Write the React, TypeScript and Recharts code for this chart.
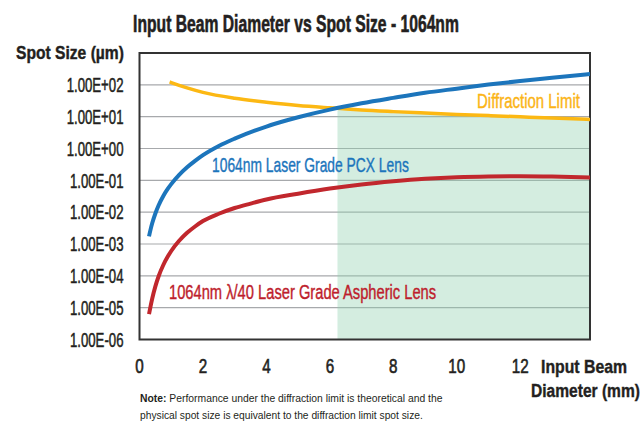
import { Area, ComposedChart, CartesianGrid, Line, ReferenceArea, XAxis, YAxis } from 'recharts';

// input beam diameter (mm) and spot size (µm)
const pcxD = [0.3, 0.35, 0.4, 0.5, 0.6, 0.75, 0.9, 1, 1.25, 1.5, 1.75, 2, 2.5, 3, 4, 5, 6, 7, 8, 9, 10, 11, 12, 13, 14.2];
const pcxSpot = [0.00174, 0.00288, 0.00447, 0.0091, 0.0162, 0.0324, 0.0556, 0.0759, 0.148, 0.257, 0.407, 0.617, 1.2, 2.04, 4.9, 9.55, 16.6, 26.3, 38.9, 56.2, 75.9, 102, 132, 166, 219];

const asphD = [0.3, 0.35, 0.4, 0.5, 0.6, 0.75, 0.9, 1, 1.25, 1.5, 1.75, 2, 2.5, 3, 3.5, 4, 5, 6, 7, 8, 9, 10, 11, 12, 13, 14.2];
const asphSpot = [0.00000631, 0.0000112, 0.0000191, 0.0000468, 0.0000955, 0.000219, 0.000417, 0.000603, 0.00126, 0.00224, 0.00355, 0.00525, 0.00891, 0.0135, 0.0186, 0.0251, 0.038, 0.055, 0.0741, 0.0933, 0.112, 0.126, 0.133, 0.135, 0.132, 0.123];

const diffD = [0.95, 1, 1.5, 2, 3, 4, 5, 6, 6.24, 7, 8, 9, 10, 11, 12, 13, 14.2];
const diffSpot = [123, 118, 80, 58, 38, 28.5, 22.5, 19, 18.3, 16.2, 14.4, 13, 11.8, 10.8, 9.9, 9.1, 8.2];

const shadeFrom = 6.24;

const xTicks = [0, 2, 4, 6, 8, 10, 12];
const yTicks = [1e-6, 1e-5, 1e-4, 1e-3, 1e-2, 1e-1, 1, 10, 100];
const yTickLabels = ['1.00E-06', '1.00E-05', '1.00E-04', '1.00E-03', '1.00E-02', '1.00E-01', '1.00E+00', '1.00E+01', '1.00E+02'];

const pcxData = pcxD.map((d, i) => ({ d, v: pcxSpot[i] }));
const asphData = asphD.map((d, i) => ({ d, v: asphSpot[i] }));
const diffData = diffD.map((d, i) => ({ d, v: diffSpot[i] }));
const shadeData = diffData.filter((p) => p.d >= shadeFrom);

const FONT = '"Liberation Sans", Arial, sans-serif';
const INK = '#231f20';

// the reference uses a condensed face; squeeze Liberation Sans to the measured widths
const ctx = document.createElement('canvas').getContext('2d');
const measure = (text: string, size: number, bold: boolean) => {
  if (!ctx) return text.length * size * 0.55;
  ctx.font = `${bold ? 'bold ' : ''}${size}px "Liberation Sans"`;
  return ctx.measureText(text).width;
};

const YTick = ({ x, y, payload }: any) => {
  const i = yTicks.findIndex((t) => Math.abs(Math.log10(t) - Math.log10(payload.value)) < 1e-6);
  return (
    <g transform={`translate(${x},${y}) scale(0.66,1)`}>
      <text textAnchor="end" dy="0.36em" fontFamily={FONT} fontSize={20} fill={INK} stroke={INK} strokeWidth={0.5}>
        {yTickLabels[i]}
      </text>
    </g>
  );
};

const XTick = ({ x, y, payload }: any) => (
  <g transform={`translate(${x},${y + 33.5}) scale(0.78,1)`}>
    <text textAnchor="middle" fontFamily={FONT} fontSize={19.5} fill={INK} stroke={INK} strokeWidth={0.6}>
      {payload.value}
    </text>
  </g>
);

const T = ({ x, y, w, size, color = INK, bold = false, heavy = 0, anchor = 'start', lead = '', text }: any) => {
  const natural = measure(lead, size, true) + measure(text, size, bold);
  const s = w / natural;
  return (
    <g transform={`translate(${x},${y}) scale(${s},1)`}>
      <text
        textAnchor={anchor}
        fontFamily={FONT}
        fontSize={size}
        fontWeight={bold ? 'bold' : 'normal'}
        fill={color}
        stroke={heavy ? color : 'none'}
        strokeWidth={heavy}
      >
        {lead ? <tspan fontWeight="bold">{lead}</tspan> : null}
        {text}
      </text>
    </g>
  );
};

export default function App() {
  return (
    <div style={{ position: 'absolute', left: 0, top: 0, width: 643, height: 440, background: '#fff' }}>
      <ComposedChart width={643} height={440} margin={{ top: 53, right: 53, left: 0, bottom: 0 }}>
        <CartesianGrid vertical={false} stroke="#a7a9ac" strokeWidth={1.2} />
        <XAxis
          type="number"
          dataKey="d"
          domain={[0, 14.2]}
          ticks={xTicks}
          allowDataOverflow
          height={100.5}
          axisLine={false}
          tickLine={false}
          tickSize={0}
          tickMargin={0}
          tick={<XTick />}
          interval={0}
        />
        <YAxis
          type="number"
          scale="log"
          domain={[1e-6, 1e3]}
          ticks={yTicks}
          allowDataOverflow
          width={139.5}
          axisLine={false}
          tickLine={false}
          tickSize={0}
          tickMargin={16}
          tick={<YTick />}
          interval={0}
        />
        <Area
          data={shadeData}
          dataKey="v"
          type="monotone"
          baseValue={1e-6}
          stroke="none"
          fill="#8fd0ad"
          fillOpacity={0.38}
          isAnimationActive={false}
        />
        <ReferenceArea x1={0} x2={14.2} y1={1e-6} y2={1e3} fill="none" stroke="#333" strokeWidth={2} ifOverflow="visible" />
        <Line data={diffData} dataKey="v" type="monotone" stroke="#fcb813" strokeWidth={3.5} dot={false} isAnimationActive={false} />
        <Line data={pcxData} dataKey="v" type="monotone" stroke="#1c75bc" strokeWidth={4} dot={false} isAnimationActive={false} />
        <Line data={asphData} dataKey="v" type="monotone" stroke="#c1272d" strokeWidth={4} dot={false} isAnimationActive={false} />
      </ComposedChart>
      <svg width={643} height={440} style={{ position: 'absolute', left: 0, top: 0, pointerEvents: 'none' }}>
        <T x={296} y={32} w={326} size={23} bold heavy={0.6} anchor="middle" text="Input Beam Diameter vs Spot Size - 1064nm" />
        <T x={16} y={58.5} w={108} size={18} bold heavy={0.4} text="Spot Size (µm)" />
        <T x={541} y={373} w={86} size={19} bold heavy={0.4} text="Input Beam" />
        <T x={531} y={396.5} w={109} size={19} bold heavy={0.4} text="Diameter (mm)" />
        <T x={477} y={108} w={103} size={20} color="#fbb416" heavy={0.4} text="Diffraction Limit" />
        <T x={212} y={171.5} w={197} size={20} color="#1c75bc" heavy={0.4} text="1064nm Laser Grade PCX Lens" />
        <T x={169} y={299} w={268} size={20} color="#be1e2d" heavy={0.4} text="1064nm λ/40 Laser Grade Aspheric Lens" />
        <T x={140} y={401.5} w={303} size={11} lead="Note:" text=" Performance under the diffraction limit is theoretical and the" />
        <T x={140} y={418.5} w={283} size={11} text="physical spot size is equivalent to the diffraction limit spot size." />
      </svg>
    </div>
  );
}
